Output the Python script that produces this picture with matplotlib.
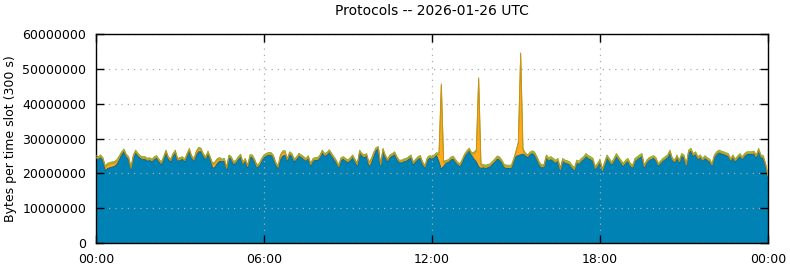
import matplotlib
matplotlib.use("Agg")
import matplotlib.pyplot as plt
import numpy as np

# 5 minute slots, 00:00 .. 24:00, values in millions of bytes
blue = [
    24.3, 24.0, 24.5, 23.7, 20.7, 21.4, 21.6, 21.8, 22.0, 22.6, 23.8, 25.4,
    26.2, 24.7, 24.0, 21.1, 24.5, 25.9, 24.9, 24.3, 24.0, 24.0, 23.5, 23.7,
    23.3, 24.0, 24.3, 23.3, 22.5, 24.0, 25.9, 24.0, 23.3, 24.9, 25.9, 23.5,
    23.7, 24.0, 23.3, 24.9, 26.4, 24.3, 23.5, 25.2, 26.2, 26.2, 24.9, 24.0,
    25.6, 24.0, 21.4, 21.8, 22.8, 23.5, 23.3, 23.5, 21.1, 24.5, 24.0, 22.5,
    23.0, 24.0, 24.7, 22.5, 23.5, 21.6, 24.5, 24.5, 23.3, 21.6, 22.1, 23.5,
    24.5, 24.9, 25.2, 25.2, 24.5, 22.5, 21.4, 23.8, 24.9, 25.2, 23.5, 25.4,
    24.9, 23.3, 24.0, 24.9, 24.5, 24.0, 23.5, 24.3, 22.1, 23.5, 23.7, 23.7,
    24.5, 25.9, 24.9, 25.2, 26.0, 24.9, 24.0, 23.0, 21.6, 23.7, 24.0, 23.5,
    23.0, 23.7, 24.5, 23.3, 22.1, 25.9, 24.9, 24.5, 24.9, 21.8, 22.8, 24.7,
    26.6, 26.9, 22.1, 26.4, 24.5, 23.3, 24.5, 24.9, 25.4, 24.0, 23.0, 23.0,
    23.3, 23.5, 24.0, 24.5, 22.5, 23.3, 24.0, 24.3, 22.5, 21.5, 23.8, 24.3,
    24.1, 24.5, 25.1, 23.3, 21.2, 22.0, 22.9, 23.1, 23.8, 24.1, 23.3, 22.4,
    21.9, 23.3, 24.8, 25.7, 26.4, 25.1, 24.1, 23.3, 21.9, 21.4, 21.6, 21.4,
    21.6, 21.9, 22.6, 23.3, 24.1, 23.8, 22.9, 21.6, 21.4, 21.4, 21.4, 23.3,
    24.8, 25.1, 25.3, 25.5, 25.1, 24.5, 25.3, 25.7, 25.3, 24.0, 22.5, 21.6,
    21.8, 24.5, 23.7, 24.0, 23.5, 23.0, 23.5, 20.8, 23.5, 23.0, 22.8, 22.5,
    21.6, 20.8, 23.0, 22.7, 23.5, 24.0, 24.9, 24.3, 24.0, 23.5, 21.2, 22.1,
    23.3, 20.6, 22.5, 24.5, 23.5, 22.5, 23.5, 24.9, 24.0, 23.0, 22.1, 23.0,
    23.5, 22.1, 21.6, 23.5, 24.0, 24.5, 24.9, 21.6, 23.0, 23.7, 24.0, 24.3,
    23.7, 22.1, 22.8, 23.5, 24.0, 24.5, 25.9, 23.7, 23.0, 24.5, 23.0, 24.9,
    24.5, 22.1, 25.9, 26.4, 24.9, 25.4, 24.0, 24.5, 23.5, 24.3, 23.7, 23.3,
    22.1, 24.5, 25.4, 25.9, 25.6, 25.4, 25.1, 24.9, 23.5, 24.5, 23.3, 24.2,
    24.9, 24.0, 24.9, 25.4, 25.4, 25.4, 25.6, 24.5, 26.4, 24.5, 24.3, 22.1,
    19.0,
]

orange = [
    0.35, 0.35, 0.30, 0.35, 1.00, 1.00, 1.10, 1.00, 0.90, 0.90, 0.80, 0.35,
    0.35, 0.30, 0.35, 0.35, 0.40, 0.35, 0.35, 0.30, 0.35, 0.35, 0.40, 0.35,
    0.35, 0.30, 0.35, 0.35, 0.35, 0.40, 0.35, 0.35, 0.30, 0.35, 0.35, 0.35,
    0.40, 0.35, 0.35, 0.30, 0.35, 0.35, 0.35, 0.80, 0.80, 0.60, 0.35, 0.35,
    0.35, 0.35, 1.00, 1.10, 1.00, 0.60, 0.35, 0.35, 0.30, 0.35, 0.35, 0.40,
    0.35, 0.35, 0.30, 0.35, 0.35, 0.35, 0.40, 0.35, 0.35, 0.30, 0.35, 0.35,
    0.35, 0.40, 0.35, 0.35, 0.30, 0.35, 0.35, 1.00, 1.00, 0.90, 0.35, 0.35,
    0.30, 0.35, 0.35, 0.40, 0.35, 0.35, 0.30, 0.35, 0.35, 0.35, 0.40, 0.35,
    0.35, 0.30, 0.35, 0.35, 0.35, 0.40, 0.35, 0.35, 0.30, 0.35, 0.35, 0.35,
    0.40, 0.35, 0.35, 0.30, 0.35, 0.35, 0.35, 0.40, 0.35, 1.00, 1.00, 0.90,
    0.35, 0.35, 0.30, 0.35, 0.35, 0.40, 0.35, 0.35, 0.30, 0.35, 0.35, 0.35,
    0.40, 0.35, 0.35, 0.30, 0.35, 0.35, 0.35, 0.40, 0.35, 0.35, 0.30, 0.35,
    0.35, 0.35, 0.40, 2.00, 24.2, 1.00, 0.40, 0.35, 0.35, 0.40, 0.35, 0.35,
    0.40, 0.35, 0.35, 0.40, 0.40, 0.40, 1.50, 3.00, 25.3, 0.80, 0.40, 0.40,
    0.40, 0.40, 0.40, 0.40, 0.40, 0.40, 0.40, 0.40, 0.40, 0.40, 0.40, 0.40,
    1.20, 3.50, 29.0, 1.20, 0.30, 0.30, 0.30, 0.30, 0.20, 0.20, 0.20, 0.20,
    0.20, 0.20, 0.20, 0.20, 0.20, 0.20, 0.20, 0.20, 0.20, 0.20, 0.20, 0.20,
    0.20, 0.20, 0.20, 0.20, 0.20, 0.20, 0.20, 0.20, 0.20, 0.20, 0.20, 0.20,
    0.20, 0.20, 0.20, 0.20, 0.20, 0.20, 0.20, 0.20, 0.20, 0.20, 0.20, 0.20,
    0.20, 0.20, 0.20, 0.20, 0.20, 0.20, 0.20, 0.30, 0.30, 0.30, 0.30, 0.30,
    0.30, 0.30, 0.30, 0.30, 0.30, 0.30, 0.30, 0.30, 0.30, 0.30, 0.30, 0.30,
    0.30, 0.30, 0.30, 0.30, 0.30, 0.30, 0.30, 0.30, 0.30, 0.30, 0.30, 0.30,
    0.30, 0.30, 0.30, 0.30, 0.30, 0.30, 0.30, 0.30, 0.30, 0.30, 0.30, 0.30,
    0.30, 0.30, 0.30, 0.30, 0.30, 0.30, 0.30, 0.30, 0.30, 0.30, 0.30, 0.30,
    0.30,
]

green = [
    0.45, 0.45, 0.50, 0.45, 0.50, 0.50, 0.45, 0.50, 0.50, 0.45, 0.45, 0.45,
    0.45, 0.50, 0.45, 0.45, 0.45, 0.45, 0.50, 0.45, 0.45, 0.45, 0.45, 0.45,
    0.45, 0.50, 0.45, 0.45, 0.45, 0.45, 0.45, 0.45, 0.50, 0.45, 0.45, 0.45,
    0.45, 0.45, 0.45, 0.50, 0.45, 0.45, 0.45, 0.45, 0.45, 0.45, 0.45, 0.45,
    0.45, 0.45, 0.50, 0.45, 0.45, 0.45, 0.45, 0.45, 0.50, 0.45, 0.45, 0.45,
    0.45, 0.45, 0.50, 0.45, 0.45, 0.45, 0.45, 0.45, 0.45, 0.50, 0.45, 0.45,
    0.45, 0.45, 0.45, 0.45, 0.50, 0.45, 0.45, 0.50, 0.50, 0.45, 0.45, 0.45,
    0.50, 0.45, 0.45, 0.45, 0.45, 0.45, 0.50, 0.45, 0.45, 0.45, 0.45, 0.45,
    0.45, 0.50, 0.45, 0.45, 0.45, 0.45, 0.45, 0.45, 0.50, 0.45, 0.45, 0.45,
    0.45, 0.45, 0.45, 0.50, 0.45, 0.45, 0.45, 0.45, 0.45, 0.45, 0.45, 0.45,
    0.45, 0.45, 0.50, 0.45, 0.45, 0.45, 0.45, 0.45, 0.50, 0.45, 0.45, 0.45,
    0.45, 0.45, 0.45, 0.50, 0.45, 0.45, 0.45, 0.45, 0.45, 0.45, 0.50, 0.45,
    0.45, 0.45, 0.45, 0.45, 0.30, 0.45, 0.45, 0.45, 0.45, 0.45, 0.45, 0.45,
    0.45, 0.45, 0.45, 0.45, 0.45, 0.45, 0.45, 0.45, 0.30, 0.55, 0.55, 0.55,
    0.55, 0.50, 0.50, 0.50, 0.50, 0.50, 0.50, 0.55, 0.55, 0.55, 0.55, 0.50,
    0.45, 0.45, 0.30, 0.45, 0.50, 0.50, 0.50, 0.50, 0.60, 0.60, 0.60, 0.60,
    0.60, 0.60, 0.60, 0.60, 0.60, 0.60, 0.60, 0.60, 0.60, 0.60, 0.60, 0.60,
    0.60, 0.60, 0.60, 0.60, 0.60, 0.60, 0.60, 0.60, 0.60, 0.60, 0.60, 0.60,
    0.60, 0.60, 0.60, 0.60, 0.60, 0.60, 0.60, 0.60, 0.60, 0.60, 0.60, 0.60,
    0.60, 0.60, 0.60, 0.60, 0.60, 0.60, 0.60, 0.50, 0.50, 0.50, 0.50, 0.50,
    0.50, 0.50, 0.50, 0.50, 0.50, 0.50, 0.50, 0.50, 0.50, 0.50, 0.50, 0.50,
    0.50, 0.50, 0.50, 0.50, 0.50, 0.50, 0.50, 0.50, 0.50, 0.50, 0.50, 0.50,
    0.50, 0.50, 0.50, 0.50, 0.50, 0.50, 0.50, 0.50, 0.50, 0.50, 0.50, 0.50,
    0.50, 0.50, 0.50, 0.50, 0.50, 0.50, 0.50, 0.50, 0.50, 0.50, 0.50, 0.50,
    0.50,
]

xtick_hours = [0, 6, 12, 18, 24]
xtick_labels = ["00:00", "06:00", "12:00", "18:00", "00:00"]
yticks = [0, 10000000, 20000000, 30000000, 40000000, 50000000, 60000000]

hours = np.arange(len(blue)) / 12.0
b = np.array(blue) * 1e6
o = np.array(orange) * 1e6
g = np.array(green) * 1e6

fig = plt.figure(figsize=(7.9, 2.67), dpi=100)
ax = fig.add_axes([96 / 790, 24 / 267, 672 / 790, 209 / 267])

ax.stackplot(hours, b, o, g,
             colors=["#0082b4", "#ffaa1a", "#9cc23a"], linewidth=0)
# darker edge on top of each layer (orange edge drawn last so spikes stay orange)
ax.plot(hours, b, color="#0a6690", lw=0.7, zorder=3)
ax.plot(hours, b + o + g, color="#88a830", lw=0.6, zorder=3)
ax.plot(hours, b + o, color="#d09010", lw=0.7, zorder=4)

ax.set_xlim(0, 24)
ax.set_ylim(0, 60000000)
ax.set_xticks(xtick_hours)
ax.set_xticklabels(xtick_labels)
ax.set_yticks(yticks)
ax.set_yticklabels([str(v) for v in yticks])
ax.tick_params(direction="in", length=6, top=True, right=True, labelsize=9,
               width=1, colors="black")
ax.tick_params(axis="x", pad=7)
ax.tick_params(axis="y", pad=7)
ax.grid(True, linestyle=(0, (1, 4)), color="#aaaaaa", linewidth=0.9)
for sp in ax.spines.values():
    sp.set_linewidth(1)
ax.set_ylabel("Bytes per time slot (300 s)", fontsize=9, labelpad=4)
ax.set_title("Protocols -- 2026-01-26 UTC", fontsize=10, pad=14)

fig.savefig("out.png", dpi=100)
